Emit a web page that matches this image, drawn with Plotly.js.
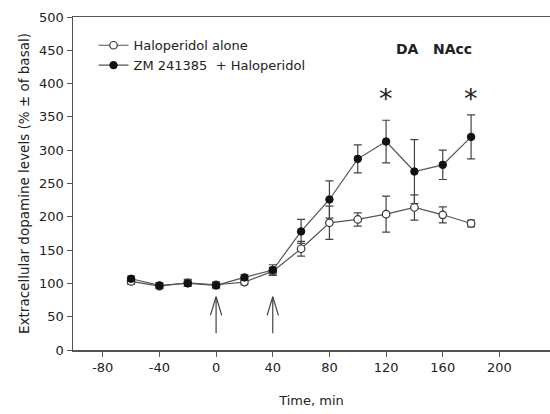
<!DOCTYPE html>
<html><head><meta charset="utf-8">
<script src="https://cdn.plot.ly/plotly-3.0.1.min.js"></script>
<style>html,body{margin:0;padding:0;background:#fff}#chart{width:550px;height:414px}</style>
</head><body><div id="chart"></div>
<script>
const time = [-60, -40, -20, 0, 20, 40, 60, 80, 100, 120, 140, 160, 180];
const haloAlone = [103, 96, 101, 98, 102, 118, 152, 191, 196, 204, 214, 203, 190];
const haloAloneErr = [4, 4, 5, 4, 4, 6, 11, 25, 10, 27, 19, 12, 5];
const zmHalo = [107, 97, 100, 97, 109, 120, 178, 226, 287, 313, 268, 278, 320];
const zmHaloErr = [4, 4, 4, 5, 4, 8, 18, 28, 21, 32, 48, 22, 33];
const xTicks = [-80, -40, 0, 40, 80, 120, 160, 200];
const xTickText = ['-80', '-40', '0', '40', '80', '120', '160', '200'];
const starTimes = [120, 180];
const starY = [378, 378];
const arrowTimes = [0, 40];
const arrowBase = 25, arrowTip = 80;

const lineCol = '#555';
const fontFam = 'DejaVu Sans, Verdana, sans-serif';

const traces = [
  {x: time, y: haloAlone, name: 'Haloperidol alone', type: 'scatter', mode: 'lines+markers',
   line: {color: lineCol, width: 1.2},
   marker: {symbol: 'circle', size: 7.5, color: '#fff', line: {color: '#333', width: 1.2}},
   error_y: {type: 'data', array: haloAloneErr, visible: true, color: '#444', thickness: 1.2, width: 4}},
  {x: time, y: zmHalo, name: 'ZM 241385  + Haloperidol', type: 'scatter', mode: 'lines+markers',
   line: {color: lineCol, width: 1.2},
   marker: {symbol: 'circle', size: 7.5, color: '#111', line: {color: '#111', width: 1}},
   error_y: {type: 'data', array: zmHaloErr, visible: true, color: '#444', thickness: 1.2, width: 4}}
];

const shapes = [];
arrowTimes.forEach(t => {
  shapes.push({type: 'line', xref: 'x', yref: 'y', x0: t, x1: t, y0: arrowBase, y1: arrowTip, line: {color: '#444', width: 1.2}});
  shapes.push({type: 'line', xref: 'x', yref: 'y', x0: t - 4, x1: t, y0: arrowTip - 28, y1: arrowTip, line: {color: '#444', width: 1.2}});
  shapes.push({type: 'line', xref: 'x', yref: 'y', x0: t + 4, x1: t, y0: arrowTip - 28, y1: arrowTip, line: {color: '#444', width: 1.2}});
});

const annotations = starTimes.map((t, i) => ({x: t, y: starY[i], xref: 'x', yref: 'y', text: '*', showarrow: false,
  font: {family: fontFam, size: 27, color: '#222'}}));
annotations.push({x: 135, y: 452, xref: 'x', yref: 'y', text: '<b>DA</b>', showarrow: false, font: {family: fontFam, size: 14, color: '#222'}});
annotations.push({x: 167, y: 452, xref: 'x', yref: 'y', text: '<b>NAcc</b>', showarrow: false, font: {family: fontFam, size: 14, color: '#222'}});

const layout = {
  width: 550, height: 414,
  margin: {l: 73, r: 0, t: 17, b: 64},
  paper_bgcolor: '#fff', plot_bgcolor: '#fff',
  font: {family: fontFam, size: 13, color: '#222'},
  showlegend: true,
  legend: {x: 0.043, y: 0.96, xanchor: 'left', yanchor: 'top', bgcolor: 'rgba(0,0,0,0)',
    font: {family: fontFam, size: 13, color: '#222'}, tracegroupgap: 0, itemwidth: 30},
  xaxis: {range: [-101, 235.7], tickvals: xTicks, ticktext: xTickText,
    showgrid: false, zeroline: false, showline: true, linecolor: lineCol, linewidth: 1.5, mirror: true,
    ticks: 'outside', ticklen: 5, tickcolor: lineCol, tickfont: {size: 13},
    title: {text: 'Time, min', font: {family: fontFam, size: 13}, standoff: 22}},
  yaxis: {range: [0, 500], dtick: 50, showgrid: false, zeroline: false, showline: true, linecolor: lineCol, linewidth: 1.5,
    ticks: 'outside', ticklen: 5, tickcolor: lineCol, tickfont: {size: 13},
    title: {text: 'Extracellular dopamine levels (% ± of basal)', font: {family: fontFam, size: 13.5}, standoff: 6}},
  shapes: shapes,
  annotations: annotations
};

Plotly.newPlot('chart', traces, layout, {displayModeBar: false, staticPlot: true});
</script></body></html>
